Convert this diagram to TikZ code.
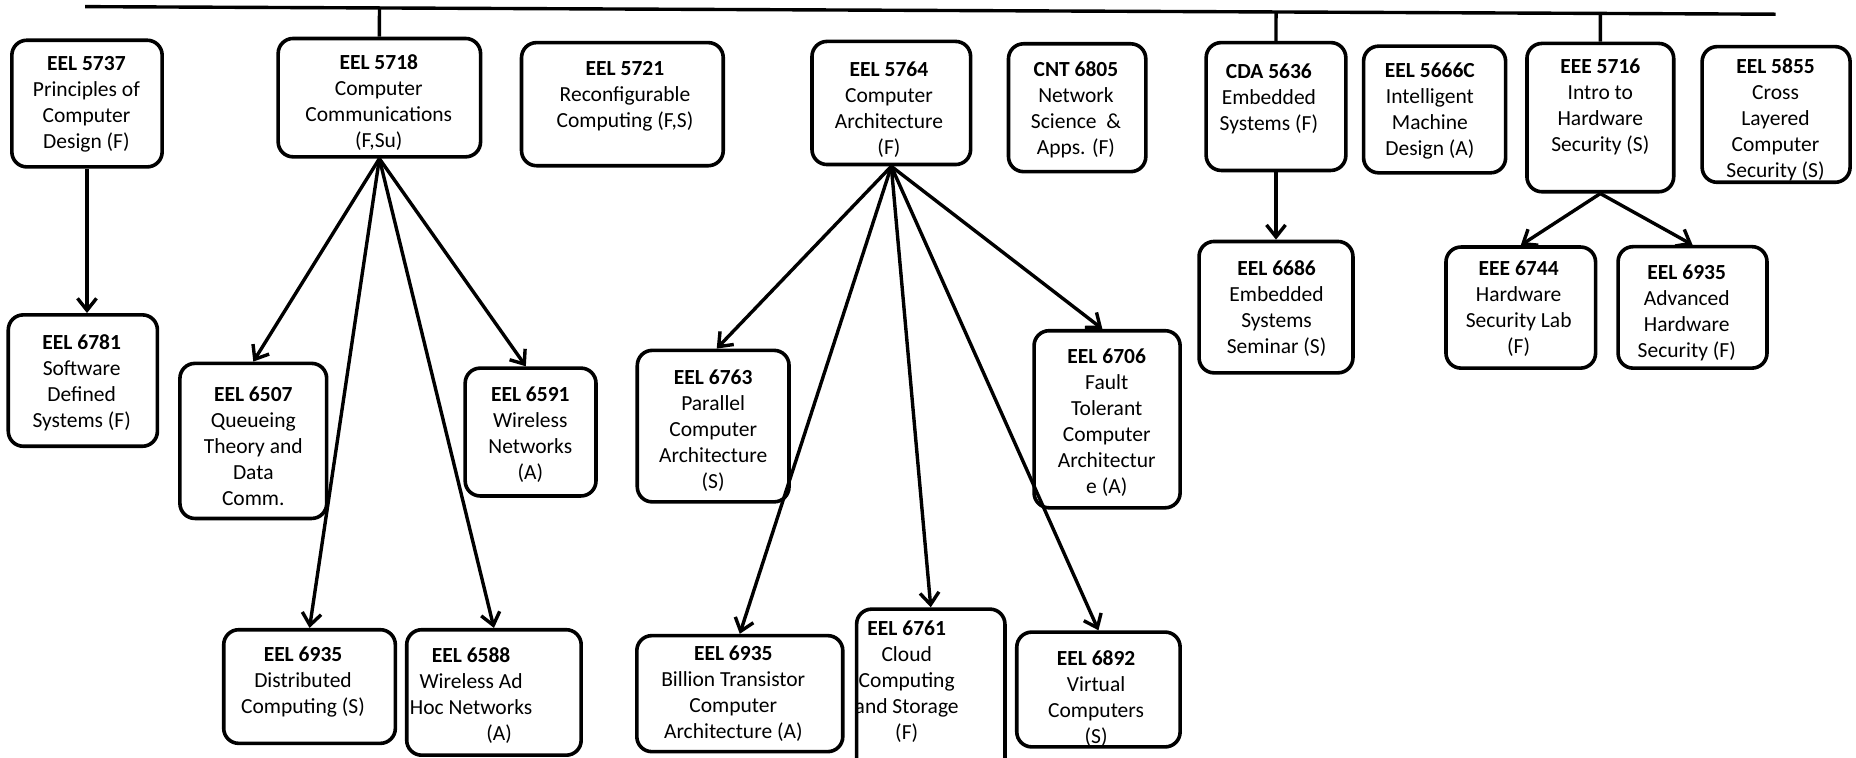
\documentclass[tikz,border=0pt]{standalone}
\usepackage{fontspec}
\setmainfont{Carlito}
\usetikzlibrary{fit,arrows.meta,calc}
\newcommand{\coursebox}[5]{\node[box, fit={(#2,#3) (#4,#5)}] (#1) {};}
\newcommand{\coursetext}[4]{\node[txt] (#1t) at (#2,#3) {#4};}
\begin{document}
\begin{tikzpicture}[x=1.1837pt,y=-1.1837pt,
  box/.style={draw, line width=3.6pt, rounded corners=15pt, inner sep=0pt},
  txt/.style={align=center, font=\fontsize{21.5}{26}\selectfont, inner sep=0pt},
  conn/.style={line width=3.4pt},
  arr/.style={line width=3.4pt, -{Straight Barb[length=12pt,width=19pt,line width=3.4pt]}}]
\useasboundingbox (0,0) rectangle (1568,640);
% top bar
\coordinate (tl) at (72,5.6);
\coordinate (tr) at (1500,12);
\draw[conn] (tl) -- (tr);
% first row
\coursebox{a1}{10}{34}{137}{141}
\coursetext{a1}{73}{88}{\textbf{EEL 5737}\\Principles of\\Computer\\Design (F)}
\coursebox{a2}{235}{32.5}{406}{132.5}
\coursetext{a2}{320}{87}{\textbf{EEL 5718}\\Computer\\Communications\\(F,Su)}
\coursebox{a3}{440.6}{36}{611}{140}
\coursetext{a3}{528}{81.5}{\textbf{EEL 5721}\\Reconfigurable\\Computing (F,S)}
\coursebox{a4}{686}{35}{820}{139}
\coursetext{a4}{751}{93}{\textbf{EEL 5764}\\Computer\\Architecture\\(F)}
\coursebox{a5}{852}{37}{968}{145}
\coursetext{a5}{909}{93}{\textbf{CNT 6805}\\Network\\Science~~\&\\Apps. (F)}
\coursebox{a6}{1019}{36}{1137}{144}
\coursetext{a6}{1072}{83.4}{\textbf{CDA 5636}\\Embedded\\Systems (F)}
\coursebox{a7}{1152}{39}{1272}{146}
\coursetext{a7}{1208}{94}{\textbf{EEL 5666C}\\Intelligent\\Machine\\Design (A)}
\coursebox{a8}{1290}{36.7}{1414}{162}
\coursetext{a8}{1352}{90}{\textbf{EEE 5716}\\Intro to\\Hardware\\Security (S)}
\coursebox{a9}{1438}{39.4}{1563}{154}
\coursetext{a9}{1500}{101.5}{\textbf{EEL 5855}\\Cross\\Layered\\Computer\\Security (S)}
% connections from bar
\draw[conn] ($(tl)!(a2.north)!(tr)$) -- (a2.north);
\draw[conn] ($(tl)!(a6.north)!(tr)$) -- (a6.north);
\draw[conn] ($(tl)!(a8.north)!(tr)$) -- (a8.north);
% second level
\coursebox{b1}{7}{266}{133}{377}
\coursetext{b1}{69}{323}{\textbf{EEL 6781}\\Software\\Defined\\Systems (F)}
\coursebox{b2}{152}{307}{276}{438}
\coursetext{b2}{214}{377}{\textbf{EEL 6507}\\Queueing\\Theory and\\Data\\Comm.}
\coursebox{b3}{393}{311}{503.5}{419}
\coursetext{b3}{448}{367}{\textbf{EEL 6591}\\Wireless\\Networks\\(A)}
\coursebox{b4}{189}{532}{334}{628}
\coursetext{b4}{256}{576.5}{\textbf{EEL 6935}\\Distributed\\Computing (S)}
\coursebox{b5}{343.6}{532}{491}{638}
\coursetext{b5}{398}{588}{\textbf{EEL 6588}\\Wireless Ad\\Hoc Networks\\\hspace*{2.6em}(A)}
\coursebox{b6}{538.4}{296}{666.6}{424}
\coursetext{b6}{602.5}{363.6}{\textbf{EEL 6763}\\Parallel\\Computer\\Architecture\\(S)}
\coursebox{b7}{538}{537}{712}{635}
\coursetext{b7}{619.5}{586}{\textbf{EEL 6935}\\Billion Transistor\\Computer\\Architecture (A)}
\coursebox{b8}{723.7}{514.6}{849}{660}
\coursetext{b8}{766}{576}{\textbf{EEL 6761}\\Cloud\\Computing\\and Storage\\(F)}
\coursebox{b9}{859}{534}{997}{631}
\coursetext{b9}{926}{590}{\textbf{EEL 6892}\\Virtual\\Computers\\(S)}
\coursebox{b10}{873.6}{279.4}{997}{429}
\coursetext{b10}{935}{357.4}{\textbf{EEL 6706}\\Fault\\Tolerant\\Computer\\Architectur\\e (A)}
\coursebox{b11}{1013}{204}{1143}{315}
\coursetext{b11}{1078.5}{260.5}{\textbf{EEL 6686}\\Embedded\\Systems\\Seminar (S)}
\coursebox{b12}{1221.6}{208.7}{1348}{311}
\coursetext{b12}{1283}{261}{\textbf{EEE 6744}\\Hardware\\Security Lab\\(F)}
\coursebox{b13}{1367}{208.4}{1492.8}{311}
\coursetext{b13}{1425}{264.5}{\textbf{EEL 6935}\\Advanced\\Hardware\\Security (F)}
% arrows
\draw[arr] (a1.south) -- (a1.south |- b1.north);
\draw[arr] (a2.south) -- (b2.north);
\draw[arr] (a2.south) -- (b4.north);
\draw[arr] (a2.south) -- (b5.north);
\draw[arr] (a2.south) -- ($(b3.north)+(-4,0)$);
\draw[arr] (a4.south) -- ($(b6.north)+(3,0)$);
\draw[arr] (a4.south) -- (b7.north);
\draw[arr] (a4.south) -- (b8.north);
\draw[arr] (a4.south) -- (b9.north);
\draw[arr] (a4.south) -- ($(b10.north)+(-4,0)$);
\draw[arr] (a6.south) -- (a6.south |- b11.north);
\draw[arr] (a8.south) -- (b12.north);
\draw[arr] (a8.south) -- (b13.north);
\end{tikzpicture}
\end{document}
